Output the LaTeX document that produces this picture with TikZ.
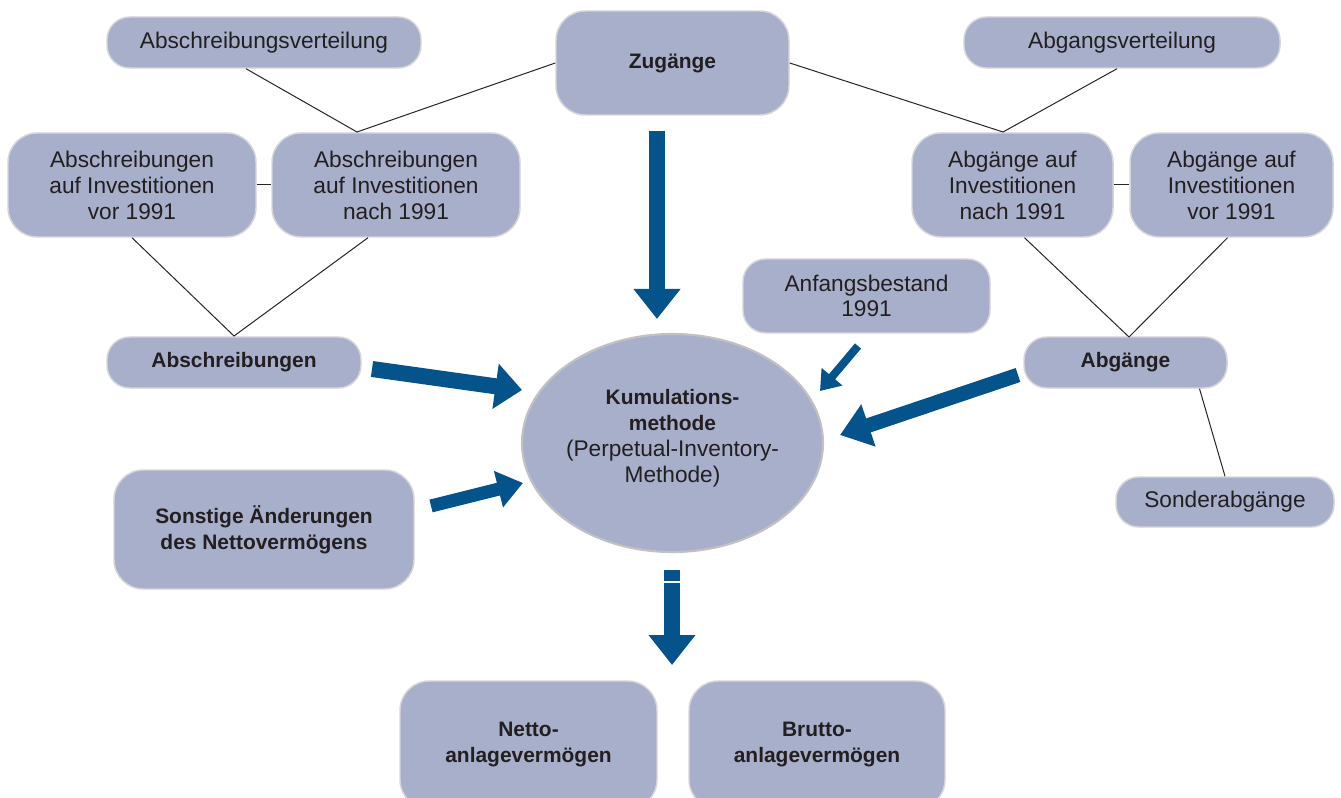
\documentclass[tikz,border=0pt]{standalone}
\usepackage{fontspec}
\setmainfont{Liberation Sans}
\usetikzlibrary{arrows.meta,shapes.geometric,calc}

\definecolor{boxfill}{RGB}{167,175,203}
\definecolor{boxline}{RGB}{214,214,218}
\definecolor{arrowblue}{RGB}{4,84,139}
\definecolor{textdark}{RGB}{35,31,32}

\newcommand{\regtext}{\fontsize{17}{19.5}\mdseries\selectfont}

\tikzset{every picture/.style={line width=0.75pt}}
\tikzset{
  boxsize/.style 2 args={minimum width=#1*0.75pt, minimum height=#2*0.75pt},
  box/.style={draw=boxline, line width=1.1pt, fill=boxfill, rounded corners=17pt,
    align=center, text=textdark, inner sep=0pt, font=\fontsize{17}{19.5}\selectfont},
  tallbox/.style={box, rounded corners=22pt},
  boldbox/.style={box, font=\fontsize{15.7}{19.5}\selectfont\bfseries},
  boldtall/.style={tallbox, font=\fontsize{15.7}{19.5}\selectfont\bfseries},
  link/.style={draw=black!85, line width=0.75pt},
  bigarrow/.style={draw=arrowblue, line width=12pt, -{Triangle[width=33.75pt,length=22.5pt]}},
}

\begin{document}
\begin{tikzpicture}[x=0.75pt,y=0.75pt,yscale=-1,xscale=1]
\useasboundingbox[fill=white] (0,0) rectangle (1341,798);

% Top row
\node[box, boxsize={314}{51}] (avert) at (264,42.5) {Abschreibungsverteilung};
\node[boldtall, boxsize={233}{104}] (zug) at (672.5,63) {Zugänge};
\node[box, boxsize={316}{51}] (gvert) at (1122,42.5) {Abgangsverteilung};

% Second row
\node[tallbox, boxsize={248}{104}] (avor) at (132,185) {Abschreibungen\\auf Investitionen\\vor 1991};
\node[tallbox, boxsize={248}{104}] (anach) at (396,185) {Abschreibungen\\auf Investitionen\\nach 1991};
\node[tallbox, boxsize={201}{104}] (gnach) at (1012.5,185) {Abgänge auf\\Investitionen\\nach 1991};
\node[tallbox, boxsize={203}{104}] (gvor) at (1231.5,185) {Abgänge auf\\Investitionen\\vor 1991};

% Middle
\node[box, boxsize={247}{74}, font=\fontsize{17}{18.75}\selectfont] (anf) at (866.5,296) {Anfangsbestand\\1991};
\node[boldbox, boxsize={254}{51}] (abschr) at (234,362.5) {Abschreibungen};
\node[boldbox, boxsize={203}{51}] (abg) at (1125.5,362.5) {Abgänge};
\node[box, boxsize={218}{50}] (sonder) at (1225,502) {Sonderabgänge};
\node[boldtall, boxsize={300}{119}] (sonst) at (264,529.5) {Sonstige Änderungen\\des Nettovermögens};

% Ellipse
\node[ellipse, draw=boxline!90!black, line width=1.6pt, fill=boxfill, inner sep=0pt,
  boxsize={301}{218}] (kum) at (672.5,443) {};
\node[align=center, text=textdark, inner sep=0pt, font=\fontsize{15.7}{19.5}\selectfont\bfseries] (kumtext) at (672.5,438)
  {Kumulations-\\methode\\{\regtext(Perpetual-Inventory-}\\{\regtext Methode)}};

% Bottom row
\node[boldtall, boxsize={257}{128}] (netto) at (528.5,745) {Netto-\\anlagevermögen};
\node[boldtall, boxsize={256}{128}] (brutto) at (817,745) {Brutto-\\anlagevermögen};

% Thin links, left
\coordinate (jl) at (357,132);
\draw[link] ($(avert.south)+(-18,0)$) -- (jl) -- (zug.west);
\draw[link] (avor.east) -- (anach.west);
\coordinate (jla) at (234,336);
\draw[link] (avor.south) -- (jla) -- ($(anach.south)+(-28,0)$);

% Thin links, right
\coordinate (jr) at (1003,132);
\draw[link] (zug.east) -- (jr) -- ($(gvert.south)+(-5,0)$);
\draw[link] (gnach.east) -- (gvor.west);
\coordinate (jra) at (1129,337);
\draw[link] ($(gnach.south)+(12,0)$) -- (jra) -- ($(gvor.south)+(-4,0)$);
\draw[link] ($(abg.south)+(74,0)$) -- (sonder.north);

% Blue arrows
\coordinate (z1) at (657,131);  \coordinate (z2) at (657,319);
\draw[bigarrow] (z1) -- (z2);
\coordinate (a1) at (372,369);  \coordinate (a2) at (522,390);
\draw[bigarrow, line width=12pt, -{Triangle[width=33pt,length=20pt]}] (a1) -- (a2);
\coordinate (s1) at (431,506);  \coordinate (s2) at (523,483);
\draw[bigarrow, line width=9.75pt, -{Triangle[width=27pt,length=19pt]}] (s1) -- (s2);
\coordinate (f1) at (858,346);  \coordinate (f2) at (820,391);
\draw[bigarrow, line width=6pt, -{Triangle[width=19.5pt,length=14pt]}] (f1) -- (f2);
\coordinate (g1) at (1018,375); \coordinate (g2) at (840,435);
\draw[bigarrow, line width=11pt, -{Triangle[width=32pt,length=22.5pt]}] (g1) -- (g2);
\coordinate (k1) at (672,570);  \coordinate (k2) at (672,665);
\draw[bigarrow] (k1) -- (k2);
\draw[white, line width=0.8pt] (662,582) -- (682,582);
\end{tikzpicture}
\end{document}
